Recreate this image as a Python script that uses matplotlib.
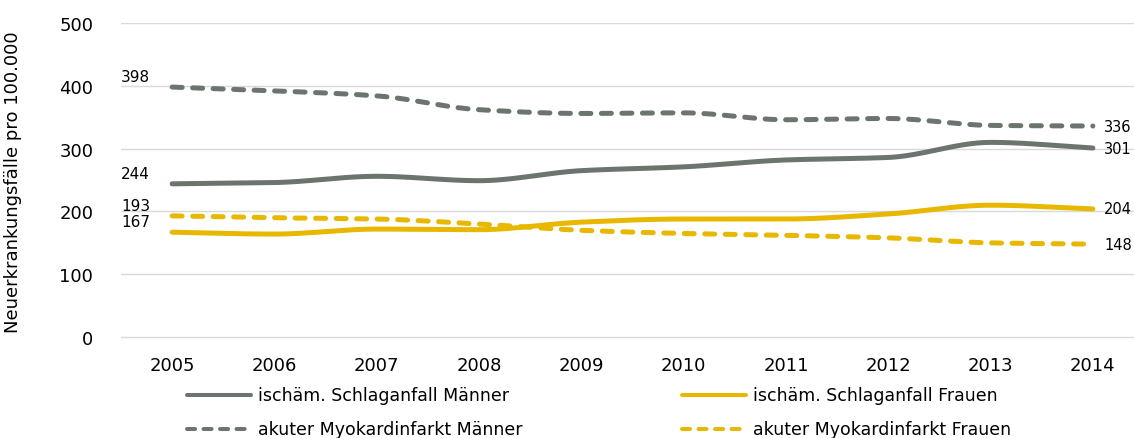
import numpy as np
import matplotlib
matplotlib.use("Agg")
import matplotlib.pyplot as plt
from matplotlib.lines import Line2D

jahre = ["2005", "2006", "2007", "2008", "2009", "2010", "2011", "2012", "2013", "2014"]
schlag_m = [244, 246, 256, 249, 265, 271, 282, 286, 310, 301]
schlag_f = [167, 164, 172, 171, 183, 188, 188, 196, 210, 204]
myo_m = [398, 392, 384, 362, 356, 357, 346, 348, 337, 336]
myo_f = [193, 190, 188, 180, 170, 165, 162, 158, 150, 148]

grau = "#6b756d"
gelb = "#e8b800"
strich = (0, (2.0, 2.1))


def glatt(y, n=30):
    # monotone kubische Hermite-Interpolation fuer die geglaetteten Linien
    y = np.asarray(y, dtype=float)
    x = np.arange(len(y))
    d = np.diff(y)
    m = np.zeros(len(y))
    for i in range(1, len(y) - 1):
        if d[i - 1] * d[i] > 0:
            m[i] = 2 / (1 / d[i - 1] + 1 / d[i])
    m[0], m[-1] = d[0], d[-1]
    xs, ys = [], []
    for i in range(len(y) - 1):
        t = np.linspace(0, 1, n, endpoint=False)
        h00 = 2 * t**3 - 3 * t**2 + 1
        h10 = t**3 - 2 * t**2 + t
        h01 = -2 * t**3 + 3 * t**2
        h11 = t**3 - t**2
        xs.append(x[i] + t)
        ys.append(h00 * y[i] + h10 * m[i] + h01 * y[i + 1] + h11 * m[i + 1])
    xs.append([x[-1]])
    ys.append([y[-1]])
    return np.concatenate(xs), np.concatenate(ys)


W, H = 1134, 439
fig = plt.figure(figsize=(W / 100, H / 100), dpi=100)
ax = fig.add_axes([121 / W, 1 - 340 / H, (1144 - 121) / W, (340 - 24) / H])

reihen = [
    (schlag_m, grau, "-", "ischäm. Schlaganfall Männer"),
    (schlag_f, gelb, "-", "ischäm. Schlaganfall Frauen"),
    (myo_m, grau, strich, "akuter Myokardinfarkt Männer"),
    (myo_f, gelb, strich, "akuter Myokardinfarkt Frauen"),
]
for werte, farbe, stil, name in reihen:
    xs, ys = glatt(werte)
    ax.plot(xs, ys, color=farbe, lw=3.6, ls=stil, solid_capstyle="round",
            dash_capstyle="round")
    ax.text(-0.5, werte[0] + 5, str(werte[0]), ha="left", va="bottom", fontsize=11)
    # Endwerte: im Original knapp am Rand, hier gerade noch im Bild
    ax.text(9.11, werte[-1], str(werte[-1]), ha="left", va="center", fontsize=10.5)

ax.set_xlim(-0.5, 9.5)
ax.set_ylim(-3, 500)
ax.set_xticks(range(len(jahre)))
ax.set_xticklabels(jahre, fontsize=13)
ax.set_yticks([0, 100, 200, 300, 400, 500])
ax.tick_params(axis="y", labelsize=13, length=0, pad=20)
ax.tick_params(axis="x", length=0, pad=12)
ax.grid(axis="y", color="#d9d9d9", lw=1)
ax.set_axisbelow(True)
for s in ax.spines.values():
    s.set_visible(False)
ax.set_ylabel("Neuerkrankungsfälle pro 100.000", fontsize=13)
ax.yaxis.set_label_coords((22 - 121) / (1144 - 121), 0.5)

# Legende von Hand, zwei Spalten
legende = [
    (185, 396, grau, "-", reihen[0][3]),
    (680, 396, gelb, "-", reihen[1][3]),
    (185, 430, grau, strich, reihen[2][3]),
    (680, 430, gelb, strich, reihen[3][3]),
]
for x0, y0, farbe, stil, name in legende:
    fig.add_artist(Line2D([(x0 + 2) / W, (x0 + 66) / W], [1 - y0 / H, 1 - y0 / H],
                          color=farbe, lw=2.9, ls=stil, solid_capstyle="round",
                          dash_capstyle="round"))
    fig.text((x0 + 73) / W, 1 - y0 / H, name, ha="left", va="center", fontsize=12.5)

fig.savefig("out.png", dpi=100)
